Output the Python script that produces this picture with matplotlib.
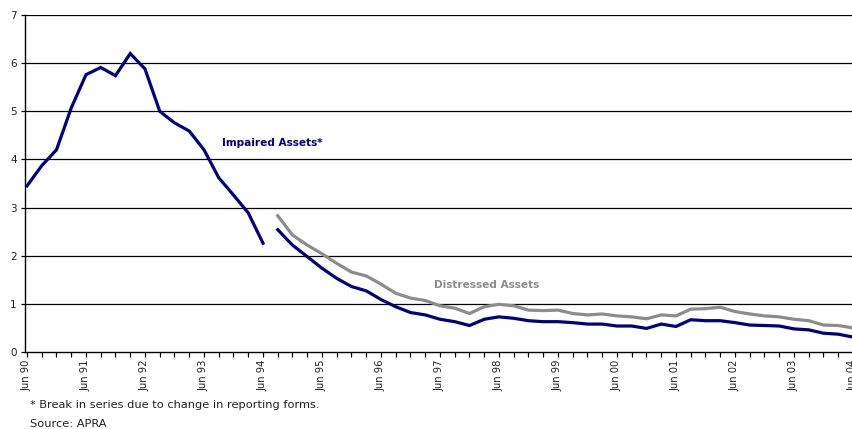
import numpy as np
import matplotlib
matplotlib.use('Agg')
import matplotlib.pyplot as plt

NAVY = '#000080'
GREY = '#8c8c8c'

# quarterly observations, index 0 = Jun 90
year_labels = ['Jun 90', 'Jun 91', 'Jun 92', 'Jun 93', 'Jun 94', 'Jun 95', 'Jun 96',
               'Jun 97', 'Jun 98', 'Jun 99', 'Jun 00', 'Jun 01', 'Jun 02', 'Jun 03', 'Jun 04']

# Jun 90 - Jun 94 (old reporting forms)
impaired_old = [3.45, 3.87, 4.20, 5.07, 5.76, 5.91, 5.74, 6.20, 5.88, 5.00, 4.76, 4.59,
                4.20, 3.62, 3.26, 2.89, 2.26]

# Sep 94 - Jun 04 (new reporting forms)
impaired_new = [2.54, 2.22, 1.98, 1.74, 1.53, 1.36, 1.27, 1.09, 0.94, 0.82, 0.77, 0.68,
                0.63, 0.55, 0.68, 0.73, 0.70, 0.65, 0.63, 0.63, 0.61, 0.58, 0.58, 0.54,
                0.54, 0.49, 0.58, 0.53, 0.67, 0.65, 0.65, 0.61, 0.56, 0.55, 0.54, 0.48,
                0.46, 0.39, 0.37, 0.31]
distressed = [2.83, 2.43, 2.22, 2.04, 1.84, 1.66, 1.58, 1.41, 1.22, 1.12, 1.07, 0.96,
              0.91, 0.80, 0.94, 0.99, 0.96, 0.87, 0.86, 0.87, 0.80, 0.77, 0.79, 0.75,
              0.73, 0.69, 0.77, 0.75, 0.89, 0.90, 0.93, 0.84, 0.79, 0.75, 0.73, 0.68,
              0.65, 0.56, 0.55, 0.50]

x_old = np.arange(len(impaired_old))
x_new = np.arange(len(impaired_old), len(impaired_old) + len(impaired_new))

fig = plt.figure(figsize=(8.53, 4.29), dpi=100)
ax = fig.add_axes([25 / 853, 77 / 429, 828 / 853, 337 / 429])

ax.plot(x_new, distressed, color=GREY, lw=2.3, solid_joinstyle='miter', zorder=3)
ax.plot(x_old, impaired_old, color=NAVY, lw=2.3, solid_joinstyle='miter', zorder=4)
ax.plot(x_new, impaired_new, color=NAVY, lw=2.3, solid_joinstyle='miter', zorder=4)

ax.set_xlim(-0.135, 55.8)
ax.set_ylim(0, 7)
ax.set_yticks(range(8))
ax.set_yticklabels([str(v) for v in range(8)], fontsize=7.5, color='#222222')
for v in range(1, 8):
    ax.axhline(v, color='black', lw=0.9, zorder=1)

ax.set_xticks(np.arange(0, 57), minor=True)
ax.set_xticks(np.arange(0, 57, 4))
ax.set_xticklabels(year_labels, rotation=90, fontsize=7.2, color='#222222')
ax.tick_params(axis='x', which='both', direction='out', length=3.5, width=0.9, pad=2)
ax.tick_params(axis='y', direction='out', length=3, width=0.9, pad=3)

for side in ['top', 'right']:
    ax.spines[side].set_visible(False)
ax.spines['left'].set_linewidth(1.0)
ax.spines['bottom'].set_linewidth(1.0)

ax.text(13.2, 4.35, 'Impaired Assets*', color=NAVY, fontsize=7.6, fontweight='bold',
        va='center', ha='left')
ax.text(27.6, 1.39, 'Distressed Assets', color=GREY, fontsize=7.6, fontweight='bold',
        va='center', ha='left')

fig.text(30 / 853, 1 - 405 / 429, '* Break in series due to change in reporting forms.',
         fontsize=8.2, va='center', ha='left', color='#222222')
fig.text(30 / 853, 1 - 424 / 429, 'Source: APRA',
         fontsize=8.2, va='center', ha='left', color='#222222')

fig.savefig('out.png', dpi=100)
